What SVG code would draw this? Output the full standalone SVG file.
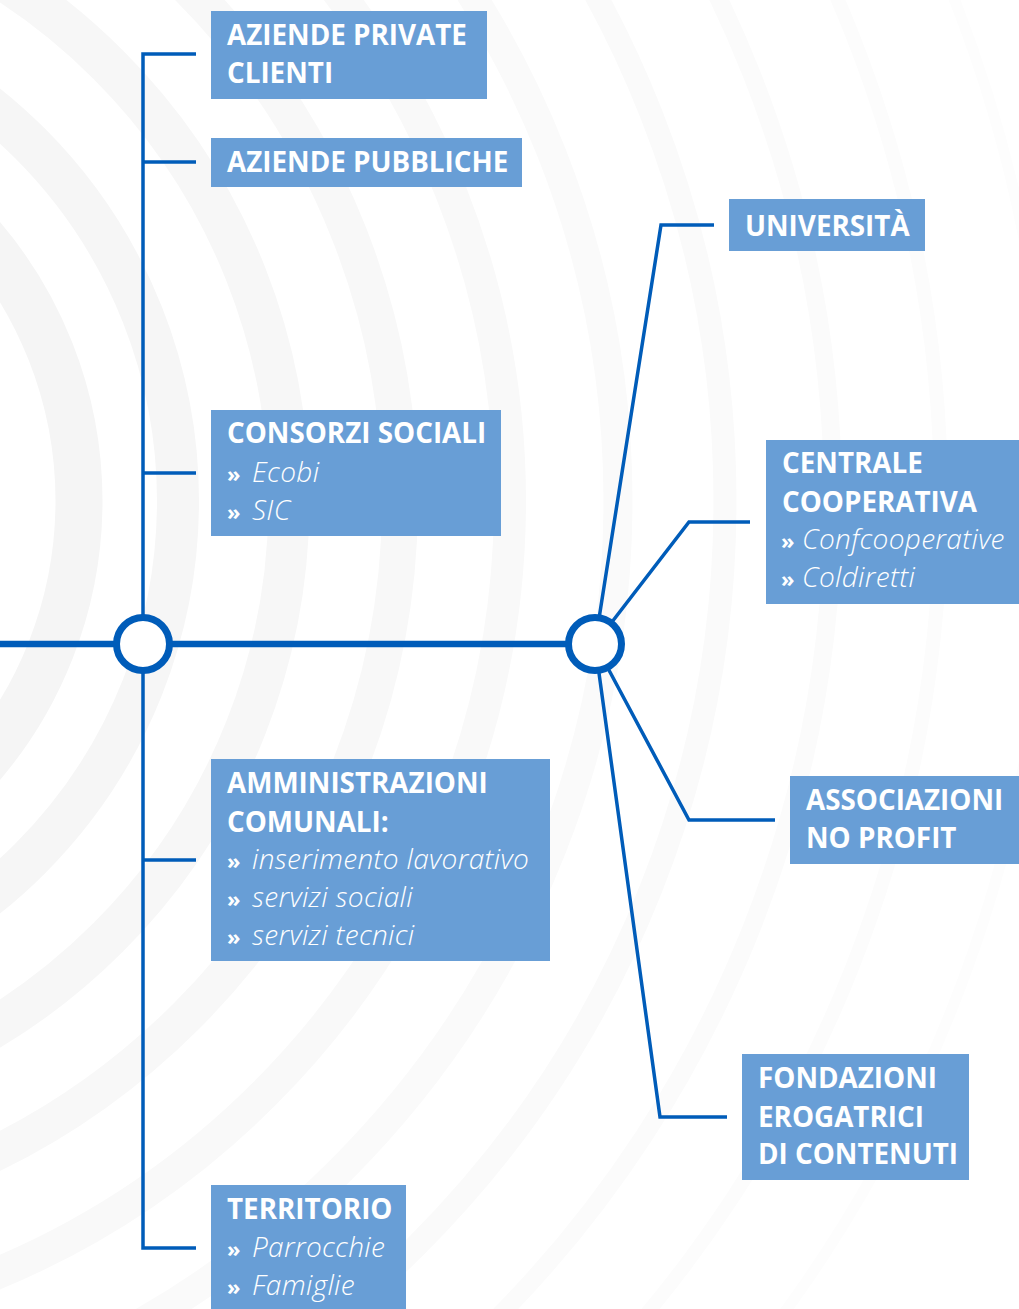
<svg xmlns="http://www.w3.org/2000/svg" width="1019" height="1309" viewBox="0 0 1019 1309">
<style>
.ring{fill:none}
.box{fill:#689ed6}
.t{font-family:"Open Sans","Liberation Sans",sans-serif;font-size:27.8px;font-weight:700;fill:#ffffff}
.i{font-family:"Open Sans","Liberation Sans",sans-serif;font-size:28px;font-weight:300;font-style:italic;letter-spacing:0.35px;fill:#ffffff}
.b{font-family:"Open Sans","Liberation Sans",sans-serif;font-size:22px;font-weight:700;fill:#ffffff}
.ln{fill:none;stroke:#005cb9;stroke-width:3.5;stroke-linejoin:miter}
.main{fill:none;stroke:#005cb9;stroke-width:6.5}
.hub{fill:#ffffff;stroke:#005cb9;stroke-width:7}
</style>
<rect width="1019" height="1309" fill="#ffffff"/>
<g id="background">
<circle class="ring" cx="-328" cy="501" r="300" stroke="#f5f5f5" stroke-width="50"/>
<circle class="ring" cx="-328" cy="501" r="407" stroke="#f5f5f5" stroke-width="47"/>
<circle class="ring" cx="-328" cy="501" r="506" stroke="#f6f6f6" stroke-width="42"/>
<circle class="ring" cx="-328" cy="501" r="617" stroke="#f7f7f7" stroke-width="41"/>
<circle class="ring" cx="-328" cy="501" r="728" stroke="#f8f8f8" stroke-width="36"/>
<circle class="ring" cx="-328" cy="501" r="838" stroke="#f9f9f9" stroke-width="32"/>
<circle class="ring" cx="-328" cy="501" r="946" stroke="#fafafa" stroke-width="29"/>
<circle class="ring" cx="-328" cy="501" r="1053" stroke="#fafafa" stroke-width="23"/>
<circle class="ring" cx="-328" cy="501" r="1161" stroke="#fbfbfb" stroke-width="18"/>
<circle class="ring" cx="-328" cy="501" r="1269" stroke="#fcfcfc" stroke-width="14"/>
<circle class="ring" cx="-328" cy="501" r="1377" stroke="#fdfdfd" stroke-width="11"/>
</g>
<g id="connectors">
<line class="main" x1="0" y1="644" x2="595" y2="644"/>
<polyline class="ln" points="196,54 143,54 143,1248 196,1248"/>
<line class="ln" x1="143" y1="162" x2="196" y2="162"/>
<line class="ln" x1="143" y1="473" x2="196" y2="473"/>
<line class="ln" x1="143" y1="860" x2="196" y2="860"/>
<polyline class="ln" points="595,644 661,225 714,225"/>
<polyline class="ln" points="595,644 689,522 750,522"/>
<polyline class="ln" points="595,644 689,820 775,820"/>
<polyline class="ln" points="595,644 660,1117 727,1117"/>
</g>
<g id="hub-left"><circle class="hub" cx="143" cy="644" r="26.5"/></g>
<g id="hub-right"><circle class="hub" cx="595" cy="644" r="26.5"/></g>
<g id="aziende-private">
<rect class="box" x="211" y="11" width="276" height="88"/>
<text class="t" x="227" y="45">AZIENDE PRIVATE</text>
<text class="t" x="227" y="83">CLIENTI</text>
</g>
<g id="aziende-pubbliche">
<rect class="box" x="211" y="138" width="311" height="49"/>
<text class="t" x="227" y="172">AZIENDE PUBBLICHE</text>
</g>
<g id="consorzi-sociali">
<rect class="box" x="211" y="410" width="290" height="126"/>
<text class="t" x="227" y="443">CONSORZI SOCIALI</text>
<text class="b" x="227" y="482">»</text><text class="i" x="252" y="482">Ecobi</text>
<text class="b" x="227" y="520">»</text><text class="i" x="252" y="520">SIC</text>
</g>
<g id="amministrazioni-comunali">
<rect class="box" x="211" y="759" width="339" height="202"/>
<text class="t" x="227" y="793">AMMINISTRAZIONI</text>
<text class="t" x="227" y="832">COMUNALI:</text>
<text class="b" x="227" y="869">»</text><text class="i" x="252" y="869">inserimento lavorativo</text>
<text class="b" x="227" y="907">»</text><text class="i" x="252" y="907">servizi sociali</text>
<text class="b" x="227" y="945">»</text><text class="i" x="252" y="945">servizi tecnici</text>
</g>
<g id="territorio">
<rect class="box" x="211" y="1185" width="195" height="124"/>
<text class="t" x="227" y="1219">TERRITORIO</text>
<text class="b" x="227" y="1257">»</text><text class="i" x="252" y="1257">Parrocchie</text>
<text class="b" x="227" y="1295">»</text><text class="i" x="252" y="1295">Famiglie</text>
</g>
<g id="universita">
<rect class="box" x="729" y="199" width="196" height="52"/>
<text class="t" x="745" y="236">UNIVERSITÀ</text>
</g>
<g id="centrale-cooperativa">
<rect class="box" x="766" y="440" width="253" height="164"/>
<text class="t" x="782" y="473">CENTRALE</text>
<text class="t" x="782" y="512">COOPERATIVA</text>
<text class="b" x="781" y="549">»</text><text class="i" x="802" y="549">Confcooperative</text>
<text class="b" x="781" y="587">»</text><text class="i" x="802" y="587">Coldiretti</text>
</g>
<g id="associazioni-no-profit">
<rect class="box" x="790" y="776" width="229" height="88"/>
<text class="t" x="806" y="810">ASSOCIAZIONI</text>
<text class="t" x="806" y="848">NO PROFIT</text>
</g>
<g id="fondazioni">
<rect class="box" x="742" y="1054" width="227" height="126"/>
<text class="t" x="758" y="1088">FONDAZIONI</text>
<text class="t" x="758" y="1127">EROGATRICI</text>
<text class="t" x="758" y="1164">DI CONTENUTI</text>
</g>
</svg>
